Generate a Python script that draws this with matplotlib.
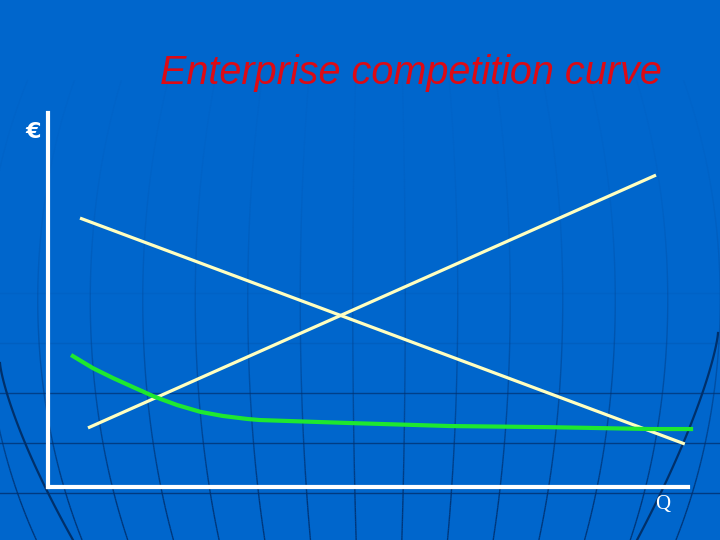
import numpy as np
import matplotlib
matplotlib.use("Agg")
import matplotlib.pyplot as plt
from matplotlib.collections import LineCollection

# ---- data ----
title = "Enterprise competition curve"
y_label = "€"
x_label = "Q"

q_demand = [0.5, 9.95]
p_demand = [7.19, 1.15]

q_supply = [0.625, 9.5]
p_supply = [1.58, 8.34]

q_green = [0.36, 0.70, 1.02, 1.33, 1.67, 2.02, 2.38, 2.73, 3.11, 3.31,
           4.72, 6.28, 7.84, 9.41, 10.08]
p_green = [3.53, 3.18, 2.91, 2.67, 2.41, 2.19, 2.01, 1.90, 1.82, 1.79,
           1.71, 1.63, 1.60, 1.55, 1.55]

W, H = 720, 540
BG = "#0066cc"
GRID = "#00306e"

fig = plt.figure(figsize=(7.2, 5.4), dpi=100, facecolor=BG)

# ---- background decoration (globe-like grid) ----
bg = fig.add_axes([0, 0, 1, 1], zorder=0)
bg.set_xlim(0, W)
bg.set_ylim(H, 0)
bg.axis("off")
bg.set_facecolor(BG)

ys = np.linspace(80, H, 200)
prof = np.sqrt(np.clip(1 - ((ys - 300) / 487.0) ** 2, 0, 1))
cx = 379
for k in range(-8, 8):
    off = (k + 0.5) * 52.5
    xs = cx + off * prof
    pts = np.column_stack([xs, ys])
    segs = np.stack([pts[:-1], pts[1:]], axis=1)
    a = np.clip((ys[:-1] - 110) / 390.0, 0, 1) ** 2.0 * 0.85 + 0.03
    cols = [(0.0, 0.19, 0.43, float(v)) for v in a]
    bg.add_collection(LineCollection(segs, colors=cols, linewidths=1.0))

# outer darker arcs
t = np.linspace(0, 1, 100)
lx = 0 + 73 * t ** 1.25 - 8 * (1 - t) * t
ly = 363 + 177 * t
bg.plot(lx, ly, color="#002a60", lw=1.6, alpha=0.9)
rx = 718 - 81 * t ** 1.25 + 8 * (1 - t) * t
ry = 333 + 207 * t
bg.plot(rx, ry, color="#002a60", lw=1.6, alpha=0.9)

# latitude lines
for yl, al in [(293, 0.06), (343, 0.12), (393, 0.7), (443, 0.75), (493, 0.8)]:
    bg.plot([0, W], [yl, yl], color=GRID, lw=1.0, alpha=al)

# ---- main chart axes ----
ax = fig.add_axes([48 / W, (H - 487) / H, 640 / W, 374 / H], zorder=2)
ax.set_facecolor("none")
ax.set_xlim(0, 10)
ax.set_ylim(0, 10)
for s in ["top", "right"]:
    ax.spines[s].set_visible(False)
for s in ["left", "bottom"]:
    ax.spines[s].set_color("white")
    ax.spines[s].set_linewidth(3.0)
ax.set_xticks([])
ax.set_yticks([])

ax.plot(q_demand, p_demand, color="#ffffc0", lw=2.3, solid_capstyle="butt", clip_on=False)
ax.plot(q_supply, p_supply, color="#ffffc0", lw=2.3, solid_capstyle="butt", clip_on=False)
ax.plot(q_green, p_green, color="#1ee830", lw=3.0, solid_capstyle="butt",
        solid_joinstyle="round", clip_on=False)

fig.text(411 / W, 1 - 73 / H, title, color="#dd0a14", fontsize=28.5,
         fontstyle="italic", family="Liberation Sans", ha="center", va="center")
fig.text(33 / W, 1 - 132 / H, y_label, color="white", fontsize=16,
         fontweight="bold", family="DejaVu Sans", ha="center", va="center")
fig.text(663 / W, 1 - 505 / H, x_label, color="white", fontsize=15,
         family="Liberation Serif", ha="center", va="center")

fig.savefig("out.png", dpi=100, facecolor=BG)
